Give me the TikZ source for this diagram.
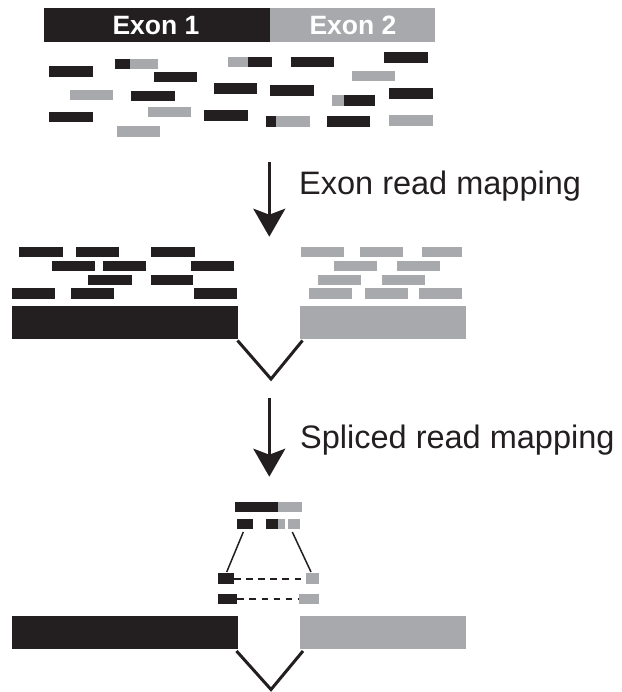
\documentclass[tikz,border=0pt]{standalone}
\usepackage{fontspec}
\setmainfont{Liberation Sans}
\usetikzlibrary{arrows.meta}
\definecolor{dk}{HTML}{231F20}
\definecolor{lt}{HTML}{A7A9AC}
\begin{document}
\begin{tikzpicture}[x=1pt,y=-1pt,
 bk/.style={fill=dk},
 gy/.style={fill=lt},
 flow/.style={draw=dk,line width=2.8pt,-{Stealth[length=28pt,width=32pt,inset=6pt]}},
 vee/.style={draw=dk,line width=3pt},
 thin/.style={draw=dk,line width=1.5pt},
 dsh/.style={draw=dk,line width=1.6pt,dash pattern=on 6.5pt off 5.6pt},
 lbl/.style={font=\fontsize{32.5}{36}\selectfont,text=dk,anchor=base west,inner sep=0pt},
 exlbl/.style={font=\fontsize{26.5}{30}\selectfont\bfseries,text=white,inner sep=0pt,anchor=base}]
\useasboundingbox (0,0) rectangle (621,692);
% ---- top exon bar
\fill[bk] (43.7,8.3) rectangle (270,42.3);
\fill[gy] (270,8.3) rectangle (435,42.3);
\node[exlbl] (ex1) at (156,34.3) {Exon 1};
\node[exlbl] (ex2) at (353,34.3) {Exon 2};
% ---- unmapped reads
\fill[bk] (48.7,66) rectangle (93,76.7);
\fill[bk] (115.3,58.7) rectangle (130,69);
\fill[gy] (130,58.7) rectangle (158.3,69);
\fill[bk] (153.7,72) rectangle (196.7,82.3);
\fill[gy] (69.7,90) rectangle (113.3,100.3);
\fill[bk] (131.3,91) rectangle (175,101.3);
\fill[bk] (48.7,111.7) rectangle (93,122.3);
\fill[gy] (148,106.7) rectangle (191,117.3);
\fill[gy] (117,126) rectangle (160.3,136.7);
\fill[gy] (228,56.7) rectangle (248.3,67.3);
\fill[bk] (248.3,56.7) rectangle (271.7,67.3);
\fill[bk] (291,56.7) rectangle (334.3,67.3);
\fill[bk] (384.3,52.3) rectangle (428.3,63.3);
\fill[gy] (352,71) rectangle (395,81.3);
\fill[bk] (213.7,83.3) rectangle (257.3,93.7);
\fill[bk] (270.3,85) rectangle (314,95.7);
\fill[gy] (332,95) rectangle (344.3,105.7);
\fill[bk] (344.3,95) rectangle (375,105.7);
\fill[bk] (389.3,88.3) rectangle (433.3,99);
\fill[bk] (204.3,110) rectangle (248.3,120.7);
\fill[bk] (266,115.7) rectangle (276,126.7);
\fill[gy] (276,115.7) rectangle (310,126.7);
\fill[bk] (326.7,116.3) rectangle (370,127);
\fill[gy] (389.3,115) rectangle (433.3,125.7);
% ---- arrow 1
\coordinate (a1s) at (269.3,161.7);
\coordinate (a1e) at (269.3,236.7);
\draw[flow] (a1s) -- (a1e);
\node[lbl] (t1) at (299,195) {Exon read mapping};
% ---- mapped exon reads
\foreach \a/\b in {19/62.7,76.3/119.3,151.3/195}{\fill[bk] (\a,246.7) rectangle (\b,257.3);}
\foreach \a/\b in {301/344,360.3/403,422/462}{\fill[gy] (\a,246.7) rectangle (\b,257.3);}
\foreach \a/\b in {52.3/95.3,103.3/146,191/234}{\fill[bk] (\a,260.7) rectangle (\b,271);}
\foreach \a/\b in {334.3/377.3,396.7/439.7}{\fill[gy] (\a,260.7) rectangle (\b,271);}
\foreach \a/\b in {88/131.7,150.7/193.3}{\fill[bk] (\a,275) rectangle (\b,285);}
\foreach \a/\b in {318/360.7,382/424.7}{\fill[gy] (\a,275) rectangle (\b,285);}
\foreach \a/\b in {12.3/55,70.7/114.3,193.7/237.3}{\fill[bk] (\a,288.3) rectangle (\b,298.7);}
\foreach \a/\b in {308.7/351.7,365.3/408,419/462}{\fill[gy] (\a,288.3) rectangle (\b,298.7);}
\fill[bk] (12.3,305.7) rectangle (238.3,339.3);
\fill[gy] (300.3,305.7) rectangle (465.7,339.3);
\coordinate (v1a) at (237.5,340.5);
\coordinate (v1b) at (271,379);
\coordinate (v1c) at (302.5,340.5);
\draw[vee] (v1a) -- (v1b) -- (v1c);
% ---- arrow 2
\coordinate (a2s) at (269.3,398.3);
\coordinate (a2e) at (269.3,476.7);
\draw[flow] (a2s) -- (a2e);
\node[lbl] (t2) at (300,448.3) {Spliced read mapping};
% ---- spliced reads
\fill[bk] (235.3,501.7) rectangle (277.7,512);
\fill[gy] (277.7,501.7) rectangle (302.3,512);
\fill[bk] (236.7,519) rectangle (252.7,529.3);
\fill[bk] (266,519) rectangle (277.7,529.3);
\fill[gy] (277.7,519) rectangle (285.3,529.3);
\fill[gy] (287.7,519) rectangle (300,529.3);
\coordinate (la) at (243.3,532);
\coordinate (lb) at (226.7,572);
\coordinate (ra) at (292.3,532);
\coordinate (rb) at (311,572);
\draw[thin] (la) -- (lb);
\draw[thin] (ra) -- (rb);
\fill[bk] (218.3,573.3) rectangle (234,584);
\fill[gy] (306,573.3) rectangle (319,584);
\coordinate (d1a) at (234,579);
\coordinate (d1b) at (306,579);
\draw[dsh] (d1a) -- (d1b);
\fill[bk] (218.3,594) rectangle (237.3,604.3);
\fill[gy] (299,594) rectangle (319,604.3);
\coordinate (d2a) at (237.3,599.2);
\coordinate (d2b) at (299,599.2);
\draw[dsh] (d2a) -- (d2b);
% ---- bottom exons
\fill[bk] (12.3,616) rectangle (238.3,649.3);
\fill[gy] (300.3,616) rectangle (465.7,649.3);
\coordinate (v2a) at (236.5,651);
\coordinate (v2b) at (271,689.5);
\coordinate (v2c) at (303,651);
\draw[vee] (v2a) -- (v2b) -- (v2c);
\end{tikzpicture}
\end{document}
